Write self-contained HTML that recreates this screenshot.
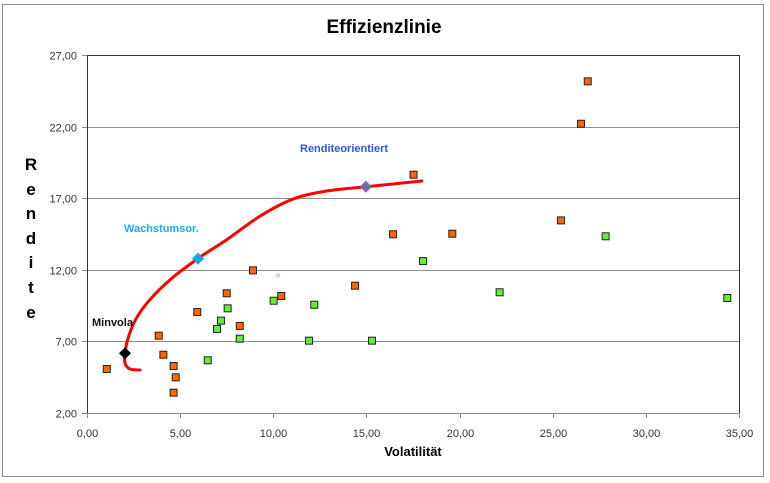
<!DOCTYPE html>
<html><head><meta charset="utf-8">
<style>
html,body{margin:0;padding:0;background:#fff;}
body{width:770px;height:478px;overflow:hidden;font-family:"Liberation Sans",sans-serif;}
svg text{font-family:"Liberation Sans",sans-serif;}
</style></head>
<body>
<svg id="chart" width="770" height="478" xmlns="http://www.w3.org/2000/svg">
<rect x="2.5" y="4.5" width="761" height="472" fill="#fff" stroke="#8c8c8c"/>
<text x="384" y="33" text-anchor="middle" font-size="19" font-weight="bold" fill="#000">Effizienzlinie</text>
<g id="grid"></g>
<g id="axes"></g>
<g id="marks"></g>
<text x="92" y="326" font-size="11" font-weight="bold" fill="#111">Minvola</text>
<text x="124" y="232" font-size="11" font-weight="bold" fill="#22aaee">Wachstumsor.</text>
<text x="300" y="152" font-size="11" font-weight="bold" fill="#3355dd">Renditeorientiert</text>
<text x="413" y="456" text-anchor="middle" font-size="13" font-weight="bold" fill="#000">Volatilität</text>
<g font-size="17" font-weight="bold" fill="#000" text-anchor="middle">
<text x="31" y="170">R</text><text x="31" y="195">e</text><text x="31" y="219">n</text><text x="31" y="244">d</text><text x="31" y="268">i</text><text x="31" y="293">t</text><text x="31" y="318">e</text>
</g>
</svg>
<script>
const xTicks=[0,5,10,15,20,25,30,35];
const yTicks=[2,7,12,17,22,27];
const orangeX=[1.06,3.85,4.10,4.65,4.76,4.65,5.92,7.50,8.20,8.91,10.43,14.39,16.43,17.53,19.61,25.44,26.52,26.88];
const orangeY=[5.07,7.40,6.07,5.28,4.49,3.42,9.05,10.36,8.08,11.96,10.17,10.89,14.48,18.64,14.52,15.45,22.20,25.16];
const greenX=[6.48,6.98,7.19,7.55,8.20,10.02,12.20,11.92,15.30,18.04,22.15,27.84,34.37];
const greenY=[5.68,7.87,8.45,9.31,7.19,9.84,9.56,7.05,7.05,12.61,10.43,14.34,10.03];
const curveX=[2.85,2.31,2.04,2.04,2.20,2.60,3.30,4.50,5.97,7.50,9.29,11.07,12.87,14.98,17.97];
const curveY=[5.00,5.07,5.47,6.17,7.20,8.50,9.80,11.35,12.80,14.10,15.75,16.95,17.50,17.80,18.20];
const faintX=[10.25];
const faintY=[11.6];
const portfolioNames=["minvola","wachstumsor","renditeorientiert"];
const portfolioX=[2.04,5.96,14.97];
const portfolioY=[6.17,12.78,17.80];
const portfolioColors=["#000000","#1fa3e6","#8064a2"];

const X0=87,X1=739,Y0=413,Y1=55;
function sx(v){return X0+(v-0)/(35-0)*(X1-X0);}
function sy(v){return Y0-(v-2)/(27-2)*(Y0-Y1);}
const NS="http://www.w3.org/2000/svg";
function mk(tag,attrs,parent){const e=document.createElementNS(NS,tag);for(const k in attrs)e.setAttribute(k,attrs[k]);parent.appendChild(e);return e;}
const grid=document.getElementById('grid'),axes=document.getElementById('axes'),marks=document.getElementById('marks');

yTicks.forEach(t=>{
  const y=Math.round(sy(t))+0.5;
  if(t!==2){const g=mk('line',{x1:X0,x2:X1,y1:y,y2:y,stroke:'#8c8c8c','stroke-width':1},grid);
  
  }
  const tk=mk('line',{x1:X0-5,x2:X0,y1:y,y2:y,stroke:'#8c8c8c'},axes);
  
  
  const tx=mk('text',{x:X0-10,y:y+4,'text-anchor':'end','font-size':11,fill:'#333'},axes);
  tx.textContent=t.toFixed(2).replace('.',',');
  
  
});
const border=mk('rect',{x:X0+0.5,y:Y1+0.5,width:X1-X0,height:Y0-Y1,fill:'none',stroke:'#333'},axes);


const xa=mk('line',{x1:X0,x2:X1,y1:Y0+0.5,y2:Y0+0.5,stroke:'#8c8c8c'},axes);


xTicks.forEach(t=>{
  const x=Math.round(sx(t))+0.5;
  const tk=mk('line',{x1:x,x2:x,y1:Y0,y2:Y0+5,stroke:'#8c8c8c'},axes);
  
  
  const tx=mk('text',{x:x,y:Y0+24,'text-anchor':'middle','font-size':11,fill:'#333'},axes);
  tx.textContent=t.toFixed(2).replace('.',',');
  
  
});

const pts=curveX.map((v,i)=>[sx(v),sy(curveY[i])]);
let d='M'+pts[0][0]+','+pts[0][1];
for(let i=0;i<pts.length-1;i++){
  const p0=pts[Math.max(0,i-1)],p1=pts[i],p2=pts[i+1],p3=pts[Math.min(pts.length-1,i+2)];
  const c1=[p1[0]+(p2[0]-p0[0])/6,p1[1]+(p2[1]-p0[1])/6];
  const c2=[p2[0]-(p3[0]-p1[0])/6,p2[1]-(p3[1]-p1[1])/6];
  d+=' C'+c1[0]+','+c1[1]+' '+c2[0]+','+c2[1]+' '+p2[0]+','+p2[1];
}
const curve=mk('path',{d:d,fill:'none',stroke:'#ff0000','stroke-width':3,'stroke-linecap':'round','stroke-linejoin':'round'},marks);



function sq(x,y,fill,name){
  const r=mk('rect',{x:sx(x)-3.5,y:sy(y)-3.5,width:7,height:7,fill:fill,stroke:'#222','stroke-width':1},marks);
  
  
}
orangeX.forEach((v,i)=>sq(v,orangeY[i],'#ff6600','orange-point'));
greenX.forEach((v,i)=>sq(v,greenY[i],'#66ee33','green-point'));
faintX.forEach((v,i)=>{
  const c=mk('circle',{cx:sx(v),cy:sy(faintY[i]),r:2.5,fill:'#dddddd'},marks);
  
  
});
portfolioX.forEach((v,i)=>{
  const cx=sx(v),cy=sy(portfolioY[i]),s=6;
  const p=mk('polygon',{points:`${cx},${cy-s} ${cx+s},${cy} ${cx},${cy+s} ${cx-s},${cy}`,fill:portfolioColors[i]},marks);
  
  
});
</script>
</body></html>
